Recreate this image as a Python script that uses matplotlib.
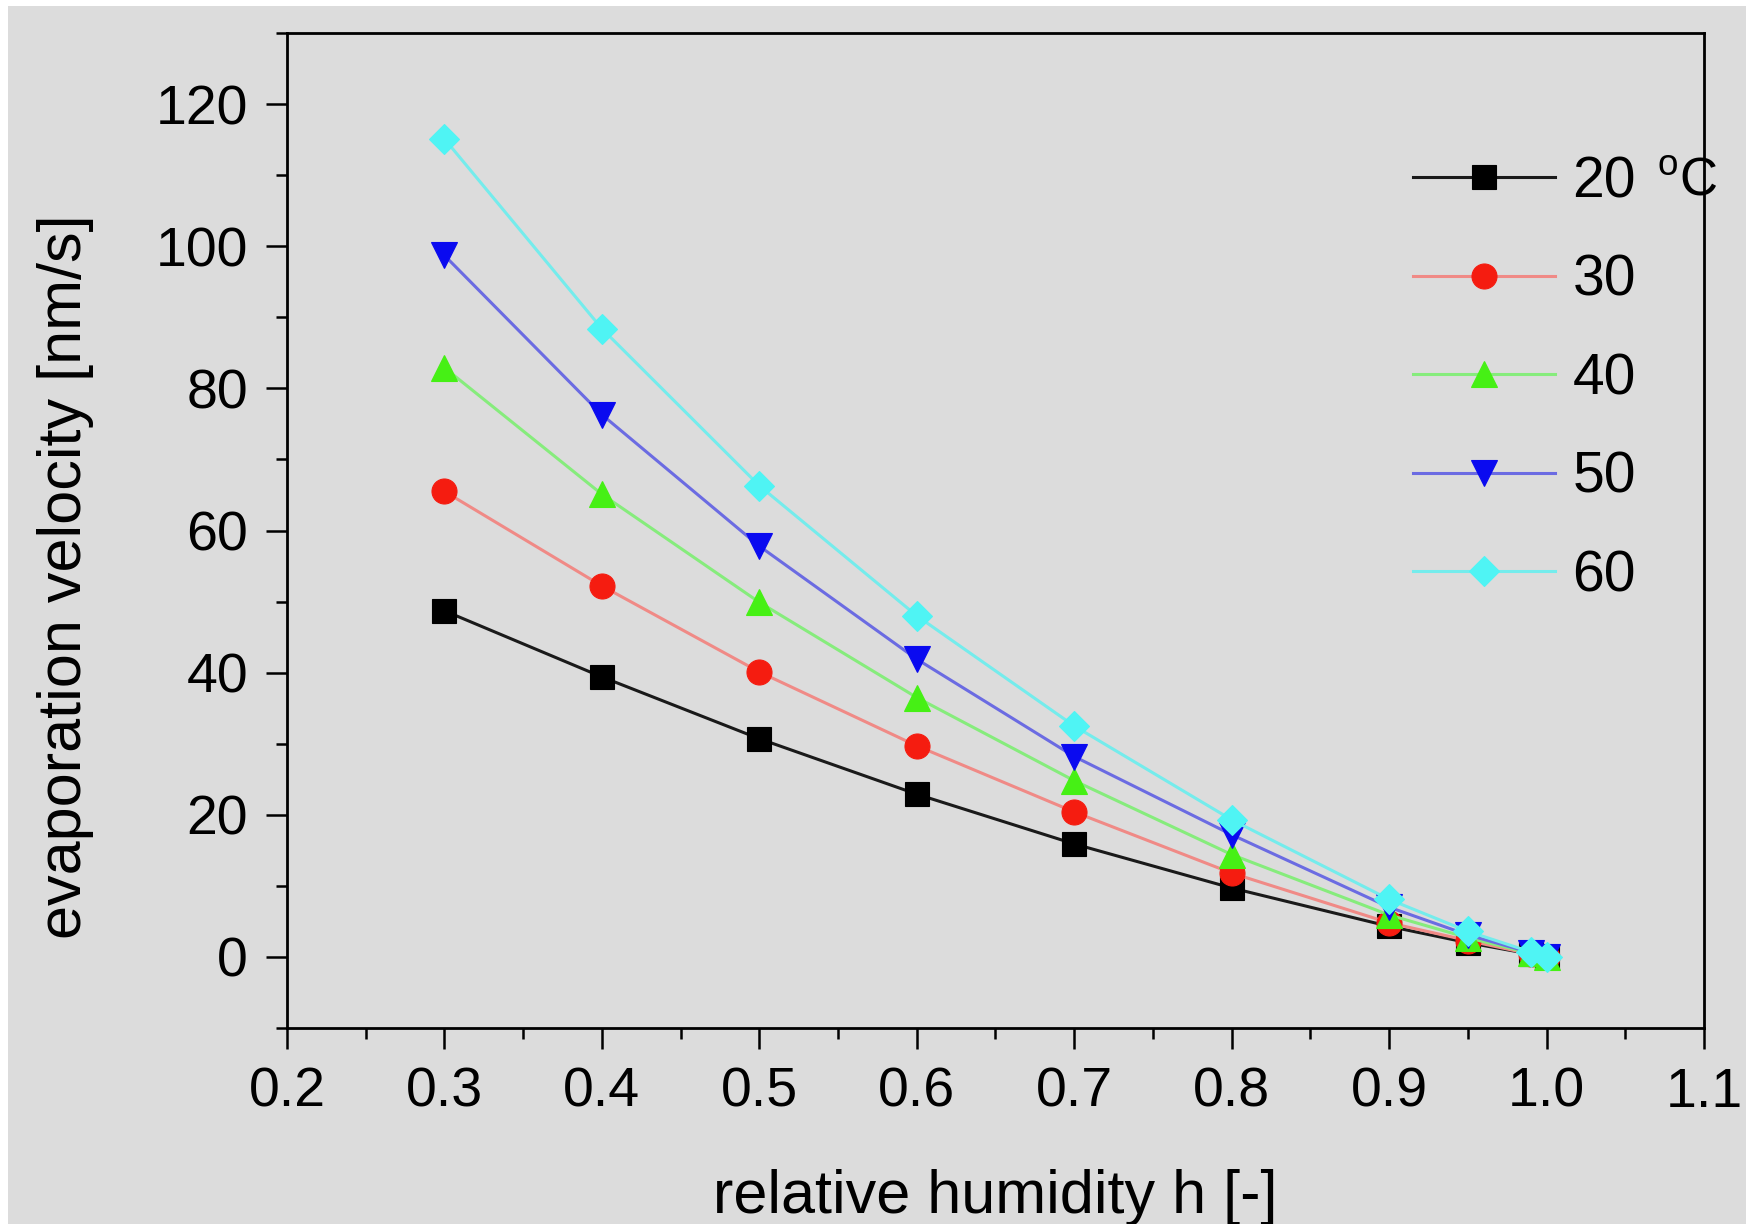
import numpy as np
import matplotlib as mpl
import matplotlib.pyplot as plt
from matplotlib.patches import Rectangle
from matplotlib.ticker import MultipleLocator, FormatStrFormatter

plt.rcParams["font.family"] = ["Liberation Sans", "DejaVu Sans"]
plt.rcParams["mathtext.fontset"] = "custom"
plt.rcParams["mathtext.rm"] = "Liberation Sans"

# relative humidity h [-]
h = [0.3, 0.4, 0.5, 0.6, 0.7, 0.8, 0.9, 0.95, 0.99, 1.0]

# evaporation velocity [nm/s] per temperature
v20 = [48.7, 39.4, 30.7, 22.9, 15.9, 9.7, 4.3, 2.0, 0.4, 0.0]
v30 = [65.5, 52.2, 40.1, 29.7, 20.4, 11.8, 4.8, 2.3, 0.4, 0.0]
v40 = [82.9, 65.1, 49.9, 36.5, 24.8, 14.4, 5.9, 2.7, 0.5, 0.0]
v50 = [98.7, 76.3, 57.8, 41.9, 28.2, 17.2, 7.0, 3.1, 0.6, 0.0]
v60 = [115.1, 88.4, 66.3, 48.0, 32.5, 19.3, 8.1, 3.6, 0.7, 0.0]

labels = ["20", "30", "40", "50", "60"]

BG = "#dcdcdc"

fig = plt.figure(figsize=(17.46, 12.24), dpi=100, facecolor="white")
fig.patches.append(Rectangle((8 / 1746, 0), 1, 1 - 6 / 1224,
                             transform=fig.transFigure, facecolor=BG,
                             edgecolor="none", zorder=-10))
ax = fig.add_axes([287 / 1746, 1 - 1028 / 1224, 1417 / 1746, 995 / 1224])
ax.set_facecolor(BG)

series = [
    (v20, "s", "#000000", "#1a1a1a", 17),
    (v30, "o", "#f51c10", "#f08a86", 18),
    (v40, "^", "#46f015", "#86ec7c", 19),
    (v50, "v", "#0a0af0", "#6b6be2", 19),
    (v60, "D", "#4ff4f4", "#74ecec", 15),
]

for (vals, mk, mcol, lcol, ms), lab in zip(series, labels):
    ax.plot(h, vals, "-", color=lcol, lw=2.2, marker=mk, ms=ms,
            markerfacecolor=mcol, markeredgecolor=mcol, markeredgewidth=0.8,
            label=lab)

ax.set_xlim(0.2, 1.1)
ax.set_ylim(-10, 130)
ax.xaxis.set_major_locator(MultipleLocator(0.1))
ax.xaxis.set_minor_locator(MultipleLocator(0.05))
ax.xaxis.set_major_formatter(FormatStrFormatter("%.1f"))
ax.set_yticks([0, 20, 40, 60, 80, 100, 120])
ax.yaxis.set_minor_locator(MultipleLocator(10))

for sp in ax.spines.values():
    sp.set_linewidth(2.0)
ax.tick_params(which="both", direction="out", top=False, right=False,
               width=1.8, labelsize=40, pad=13)
ax.tick_params(which="major", length=15)
ax.tick_params(which="minor", length=8)

ax.set_xlabel("relative humidity h [-]", fontsize=44)
ax.xaxis.set_label_coords(0.5, -0.142)
ax.set_ylabel("evaporation velocity [nm/s]", fontsize=44)
ax.yaxis.set_label_coords(-0.136, 0.454)

ax.legend(loc="upper left", bbox_to_anchor=(0.7947, 0.877), frameon=False,
          fontsize=41, handlelength=2.5, handletextpad=0.3, labelspacing=0.78,
          borderpad=0, borderaxespad=0, numpoints=1)

ax.text(0.9668, 0.8508, r"$^{\rm o}$C", transform=ax.transAxes, fontsize=38,
        ha="left", va="center", clip_on=False)

fig.savefig("out.png", dpi=100, facecolor=fig.get_facecolor())
